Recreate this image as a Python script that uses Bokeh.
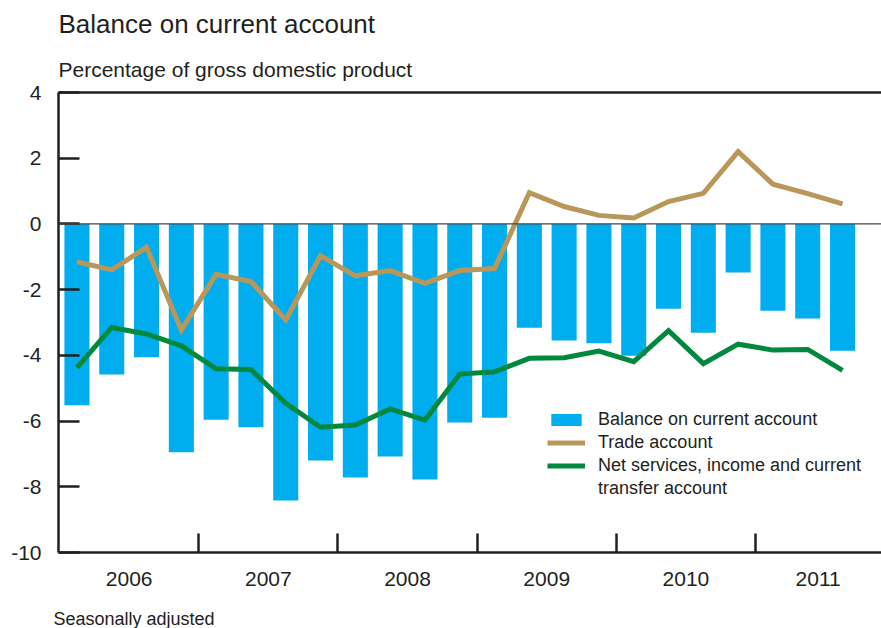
from bokeh.plotting import figure
from bokeh.models import (Range1d, FixedTicker, LinearAxis, Legend, LegendItem,
                          ColumnDataSource, Span, Title)
from bokeh.embed import file_html
from bokeh.resources import INLINE

# ---------------- data ----------------
quarters = ["2006 Q1", "2006 Q2", "2006 Q3", "2006 Q4",
            "2007 Q1", "2007 Q2", "2007 Q3", "2007 Q4",
            "2008 Q1", "2008 Q2", "2008 Q3", "2008 Q4",
            "2009 Q1", "2009 Q2", "2009 Q3", "2009 Q4",
            "2010 Q1", "2010 Q2", "2010 Q3", "2010 Q4",
            "2011 Q1", "2011 Q2", "2011 Q3"]
balance = [-5.52, -4.58, -4.06, -6.95, -5.96, -6.19, -8.42, -7.20, -7.72, -7.08, -7.78, -6.04,
           -5.90, -3.16, -3.55, -3.63, -4.01, -2.58, -3.31, -1.48, -2.64, -2.88, -3.86]
trade = [-1.15, -1.40, -0.71, -3.23, -1.53, -1.75, -2.92, -0.97, -1.58, -1.42, -1.81, -1.42,
         -1.36, 0.95, 0.53, 0.26, 0.18, 0.68, 0.93, 2.20, 1.21, 0.92, 0.61]
net_services = [-4.37, -3.15, -3.35, -3.71, -4.41, -4.43, -5.46, -6.19, -6.12, -5.63, -5.97, -4.57,
                -4.50, -4.09, -4.07, -3.87, -4.19, -3.25, -4.25, -3.66, -3.84, -3.82, -4.46]
years = ["2006", "2007", "2008", "2009", "2010", "2011"]
y_ticks = [-10, -8, -6, -4, -2, 0, 2, 4]
y_tick_labels = ["-10", "-8", "-6", "-4", "-2", "0", "2", "4"]

legend_labels = ["Balance on current account", "Trade account",
                 "Net services, income and current", "transfer account"]
title_text = "Balance on current account"
subtitle_text = "Percentage of gross domestic product"
footnote_text = "Seasonally adjusted"

# ---------------- layout constants ----------------
W, H = 881, 628
FRAME_L, FRAME_T = 58, 92
FRAME_W, FRAME_H = 823, 460
X0, X1 = -0.53, 23.12
Y0, Y1 = -10, 4

FONT = "Liberation Sans"
TXT = "#231f20"
BLUE = "#00AEEF"
TAN = "#B9975B"
GREEN = "#00893E"

xs = list(range(len(quarters)))
src = ColumnDataSource(dict(x=xs, q=quarters, balance=balance, trade=trade, net=net_services))

p = figure(width=W, height=H, x_range=Range1d(X0, X1), y_range=Range1d(Y0, Y1),
           output_backend="svg", toolbar_location=None,
           x_axis_type=None, y_axis_type=None,
           min_border_left=FRAME_L, min_border_right=0,
           min_border_top=FRAME_T, min_border_bottom=H - FRAME_T - FRAME_H)
p.outline_line_color = None
p.background_fill_color = "white"
p.border_fill_color = "white"

# bars and lines
bars = p.vbar(x="x", width=0.72, top=0, bottom="balance", source=src,
              fill_color=BLUE, line_color=None)
p.add_layout(Span(location=0, dimension="width", line_color="#444444", line_width=1.2))
tline = p.line(x="x", y="trade", source=src, line_color=TAN, line_width=5, line_join="miter")
nline = p.line(x="x", y="net", source=src, line_color=GREEN, line_width=5, line_join="miter")
# invisible renderer carrying the second line of the last legend label
blank = p.line(x=[], y=[], line_alpha=0)

# left axis
yax = LinearAxis(ticker=FixedTicker(ticks=y_ticks),
                 major_label_overrides={t: l for t, l in zip(y_ticks, y_tick_labels)})
yax.axis_line_width = 2.5
yax.axis_line_color = TXT
yax.major_tick_in = 21
yax.major_tick_out = 0
yax.major_tick_line_width = 2.5
yax.major_tick_line_color = TXT
yax.minor_tick_line_color = None
yax.major_label_standoff = 17
yax.major_label_text_font = FONT
yax.major_label_text_font_size = "21px"
yax.major_label_text_color = TXT
p.add_layout(yax, "left")

# bottom axis: year labels centred in each year, boundaries as inward ticks
year_pos = [1.5, 5.5, 9.5, 13.5, 17.5, 21.3]
boundaries = [3.5, 7.5, 11.5, 15.5, 19.5]
xax = LinearAxis(ticker=FixedTicker(ticks=year_pos, minor_ticks=boundaries),
                 major_label_overrides={t: y for t, y in zip(year_pos, years)})
xax.axis_line_width = 2.5
xax.axis_line_color = TXT
xax.major_tick_in = 0
xax.major_tick_out = 0
xax.major_tick_line_color = None
xax.minor_tick_in = 19
xax.minor_tick_out = 0
xax.minor_tick_line_width = 2.5
xax.minor_tick_line_color = TXT
xax.major_label_standoff = 19
xax.major_label_text_font = FONT
xax.major_label_text_font_size = "21px"
xax.major_label_text_color = TXT
p.add_layout(xax, "below")

# top frame line
tax = LinearAxis(ticker=FixedTicker(ticks=[]))
tax.axis_line_width = 2.5
tax.axis_line_color = TXT
tax.major_tick_line_color = None
tax.minor_tick_line_color = None
tax.major_label_text_font_size = "0px"
p.add_layout(tax, "above")

# titles
p.add_layout(Title(text=subtitle_text, align="left", text_font=FONT, text_font_size="21px",
                   text_font_style="normal", text_color=TXT, standoff=24), "above")
p.add_layout(Title(text=title_text, align="left", text_font=FONT, text_font_size="26px",
                   text_font_style="normal", text_color=TXT, standoff=9), "above")
foot = Title(text="\n" + footnote_text, align="left", text_font=FONT, text_font_size="18px",
             text_font_style="normal", text_color=TXT, offset=-5)
try:
    foot.standoff = -4
except Exception:
    foot.standoff = 0
p.add_layout(foot, "below")

# legend
legend = Legend(items=[LegendItem(label=legend_labels[0], renderers=[bars]),
                       LegendItem(label=legend_labels[1], renderers=[tline]),
                       LegendItem(label=legend_labels[2], renderers=[nline]),
                       LegendItem(label=legend_labels[3], renderers=[blank])],
                location=(489, 52), orientation="vertical",
                border_line_color=None, background_fill_alpha=0,
                padding=0, margin=0, spacing=0,
                glyph_width=38, glyph_height=15, label_standoff=13, label_height=23,
                label_text_font=FONT, label_text_font_size="18px", label_text_color=TXT)
p.add_layout(legend)

open("out.html", "w").write(file_html(p, INLINE))
